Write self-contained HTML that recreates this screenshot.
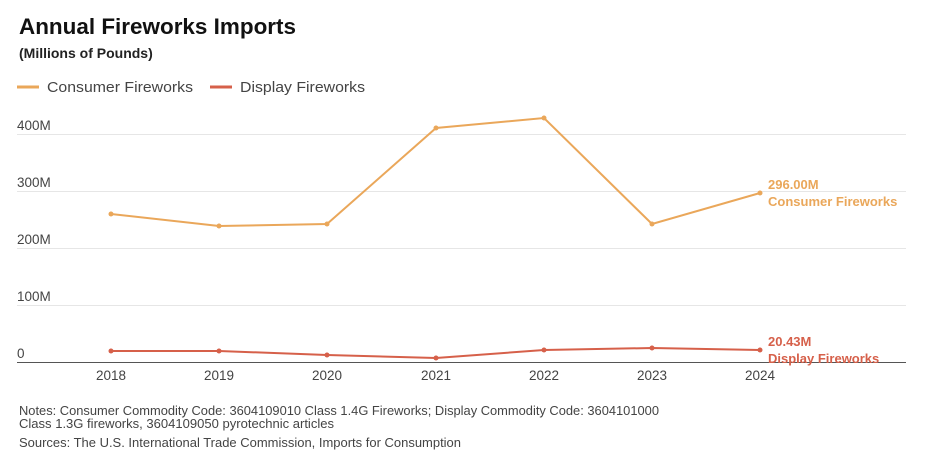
<!DOCTYPE html>
<html><head><meta charset="utf-8"><style>
body{margin:0;background:#fff;width:927px;height:462px;overflow:hidden;font-family:"Liberation Sans",sans-serif}
</style></head><body>
<svg width="927" height="462" xmlns="http://www.w3.org/2000/svg" font-family="Liberation Sans, sans-serif">
<text x="19" y="34" font-size="22" font-weight="bold" fill="#111" textLength="277" lengthAdjust="spacingAndGlyphs">Annual Fireworks Imports</text>
<text x="19" y="58" font-size="14" font-weight="bold" fill="#222">(Millions of Pounds)</text>
<line x1="17" y1="87" x2="39" y2="87" stroke="#eaa75a" stroke-width="3"/>
<text x="47" y="92" font-size="15" fill="#444" textLength="146" lengthAdjust="spacingAndGlyphs">Consumer Fireworks</text>
<line x1="210" y1="87" x2="232" y2="87" stroke="#d6604a" stroke-width="3"/>
<text x="240" y="92" font-size="15" fill="#444" textLength="125" lengthAdjust="spacingAndGlyphs">Display Fireworks</text>
<g stroke="#e6e6e6" stroke-width="1">
<line x1="17" y1="134.5" x2="906" y2="134.5"/>
<line x1="17" y1="191.5" x2="906" y2="191.5"/>
<line x1="17" y1="248.5" x2="906" y2="248.5"/>
<line x1="17" y1="305.5" x2="906" y2="305.5"/>
</g>
<line x1="17" y1="362.5" x2="906" y2="362.5" stroke="#555" stroke-width="1"/>
<g font-size="13.5" fill="#444">
<text x="17" y="130">400M</text><text x="17" y="187">300M</text><text x="17" y="244">200M</text><text x="17" y="301">100M</text><text x="17" y="358">0</text>
</g>
<g font-size="13.5" fill="#444" text-anchor="middle">
<text x="111" y="380">2018</text><text x="219" y="380">2019</text><text x="327" y="380">2020</text><text x="436" y="380">2021</text><text x="544" y="380">2022</text><text x="652" y="380">2023</text><text x="760" y="380">2024</text>
</g>
<polyline fill="none" stroke="#eaa75a" stroke-width="2" points="111,214 219,226 327,224 436,128 544,118 652,224 760,193"/>
<g fill="#eaa75a"><circle cx="111" cy="214" r="2.5"/><circle cx="219" cy="226" r="2.5"/><circle cx="327" cy="224" r="2.5"/><circle cx="436" cy="128" r="2.5"/><circle cx="544" cy="118" r="2.5"/><circle cx="652" cy="224" r="2.5"/><circle cx="760" cy="193" r="2.5"/></g>
<polyline fill="none" stroke="#d6604a" stroke-width="2" points="111,351 219,351 327,355 436,358 544,350 652,348 760,350"/>
<g fill="#d6604a"><circle cx="111" cy="351" r="2.5"/><circle cx="219" cy="351" r="2.5"/><circle cx="327" cy="355" r="2.5"/><circle cx="436" cy="358" r="2.5"/><circle cx="544" cy="350" r="2.5"/><circle cx="652" cy="348" r="2.5"/><circle cx="760" cy="350" r="2.5"/></g>
<g font-size="13" font-weight="bold" fill="#eaa75a"><text x="768" y="189">296.00M</text><text x="768" y="206">Consumer Fireworks</text></g>
<g font-size="13" font-weight="bold" fill="#d6604a"><text x="768" y="346">20.43M</text><text x="768" y="363">Display Fireworks</text></g>
<g font-size="12.5" fill="#444">
<text x="19" y="415" textLength="640" lengthAdjust="spacingAndGlyphs">Notes: Consumer Commodity Code: 3604109010 Class 1.4G Fireworks; Display Commodity Code: 3604101000</text>
<text x="19" y="428" textLength="315" lengthAdjust="spacingAndGlyphs">Class 1.3G fireworks, 3604109050 pyrotechnic articles</text>
<text x="19" y="447" textLength="442" lengthAdjust="spacingAndGlyphs">Sources: The U.S. International Trade Commission, Imports for Consumption</text>
</g>
</svg>
</body></html>
